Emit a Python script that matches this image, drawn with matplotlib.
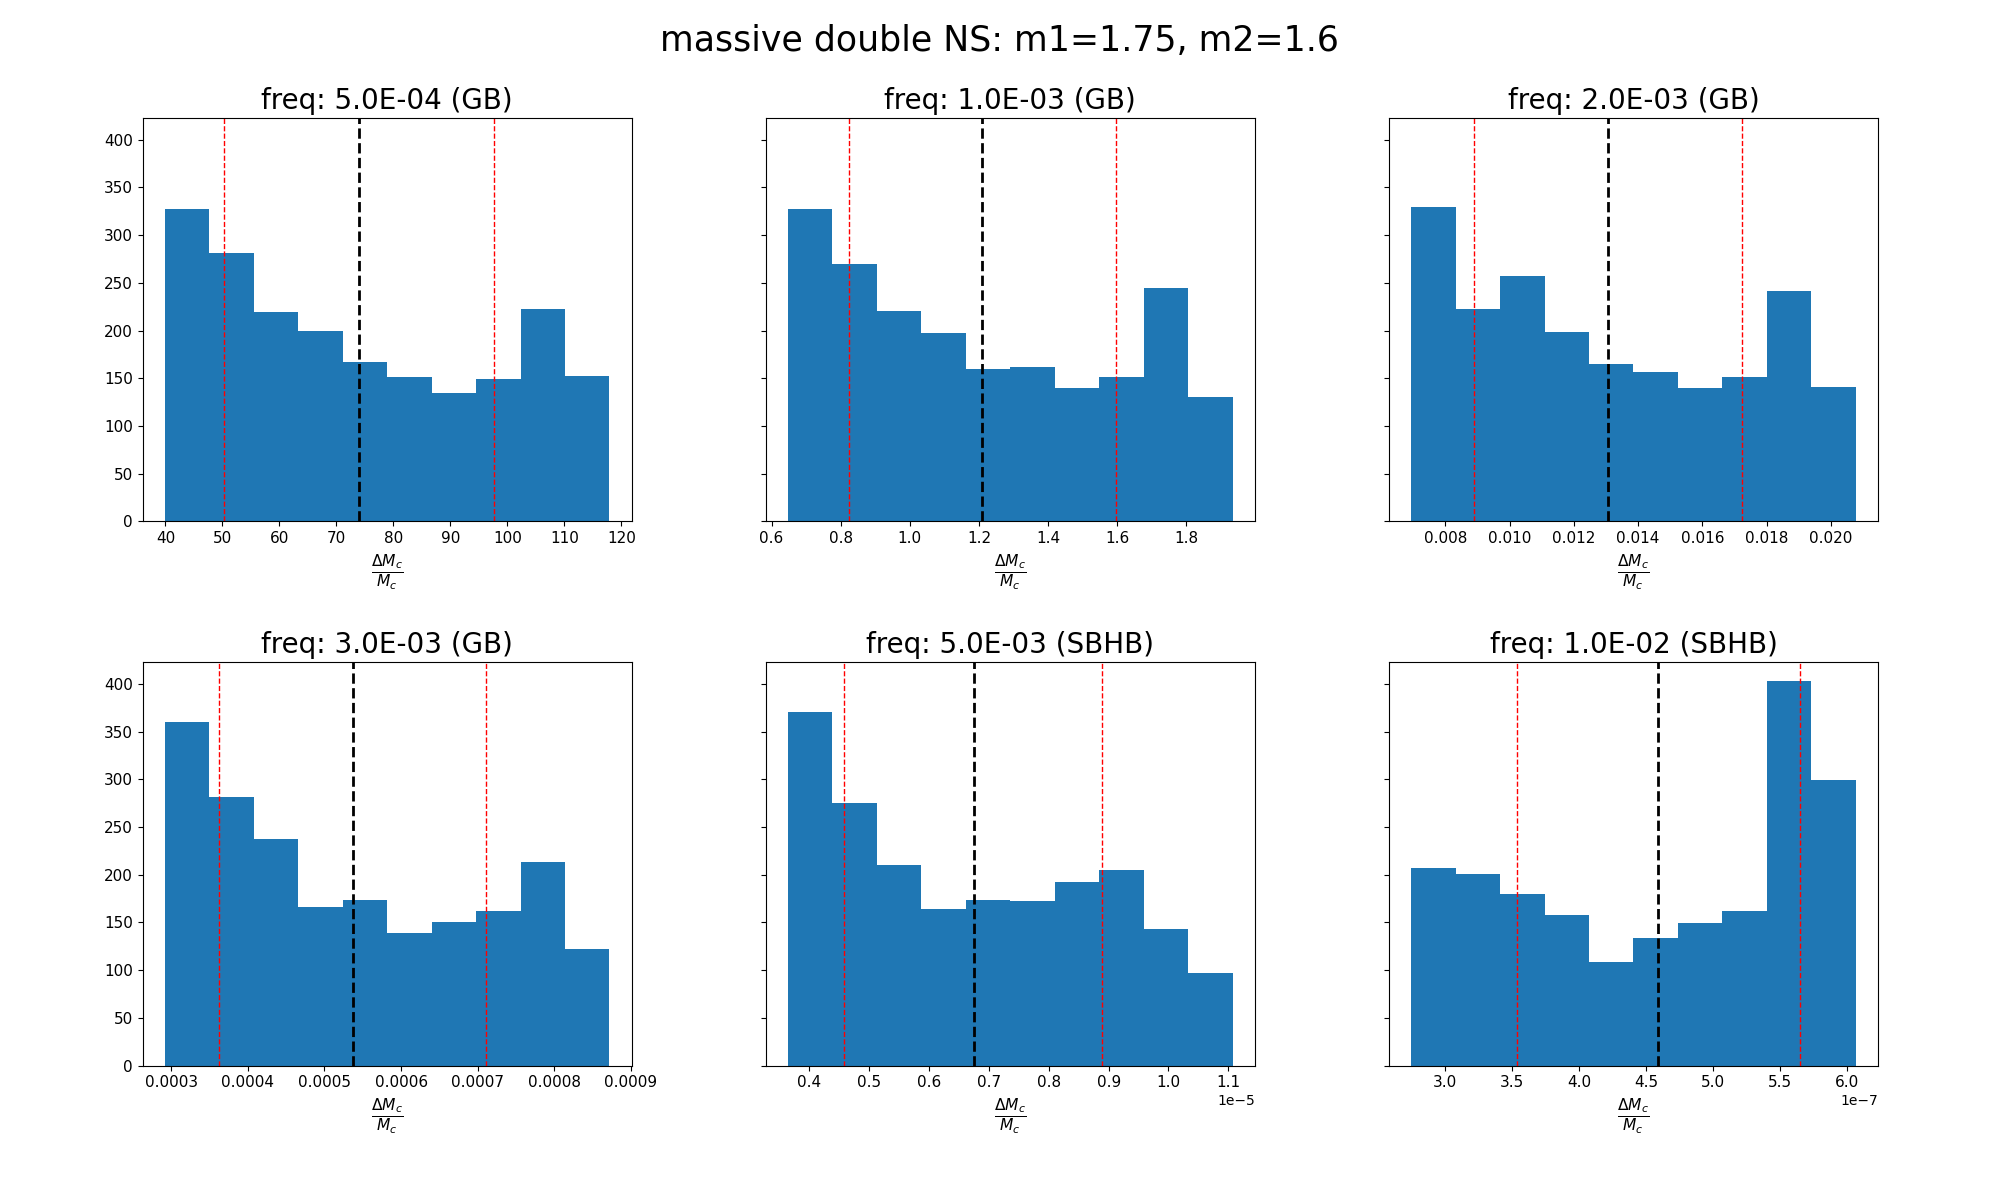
import numpy as np
import matplotlib
matplotlib.use("Agg")
import matplotlib.pyplot as plt

# titulos dos paineis
titulos = ["freq: 5.0E-04 (GB)", "freq: 1.0E-03 (GB)", "freq: 2.0E-03 (GB)",
           "freq: 3.0E-03 (GB)", "freq: 5.0E-03 (SBHB)", "freq: 1.0E-02 (SBHB)"]

# limites dos bins (min, max) de cada histograma
bin_min = [39.9, 0.6475, 0.006936, 0.0002916, 0.3642e-5, 2.7445e-7]
bin_max = [117.9, 1.9343, 0.020776, 0.000872, 1.1072e-5, 6.0692e-7]

# contagens (10 bins por painel)
contagens = [
    [327, 281, 219, 200, 167, 151, 135, 149, 223, 152],
    [327, 270, 221, 197, 160, 162, 140, 151, 245, 130],
    [329, 223, 257, 198, 165, 157, 140, 151, 241, 141],
    [360, 281, 237, 166, 173, 139, 150, 162, 213, 122],
    [371, 275, 210, 164, 174, 172, 192, 205, 143, 97],
    [207, 201, 180, 158, 109, 134, 149, 162, 403, 299],
]

# linhas verticais: mediana (preta) e limites (vermelhas)
mediana = [74.0, 1.2103, 0.013053, 0.0005367, 0.6743e-5, 4.589e-7]
lim_inf = [50.3, 0.823, 0.008898, 0.0003623, 0.4584e-5, 3.5377e-7]
lim_sup = [97.7, 1.5976, 0.01723, 0.0007112, 0.8896e-5, 5.6486e-7]

fig, axes = plt.subplots(2, 3, figsize=(20, 12), sharey=True)
fig.subplots_adjust(left=0.0713, right=0.939, top=0.902, bottom=0.112,
                    wspace=0.274, hspace=0.3475)
fig.suptitle("massive double NS: m1=1.75, m2=1.6", fontsize=25)

for i, ax in enumerate(axes.flat):
    edges = np.linspace(bin_min[i], bin_max[i], len(contagens[i]) + 1)
    ax.hist(edges[:-1], bins=edges, weights=contagens[i])
    ax.axvline(mediana[i], color="k", linestyle="--", linewidth=2)
    ax.axvline(lim_inf[i], color="r", linestyle="--", linewidth=1)
    ax.axvline(lim_sup[i], color="r", linestyle="--", linewidth=1)
    ax.set_title(titulos[i], fontsize=20)
    ax.set_xlabel(r"$\frac{\Delta M_c}{M_c}$", fontsize=16)
    ax.tick_params(labelsize=11)

plt.savefig("out.png", dpi=100)
